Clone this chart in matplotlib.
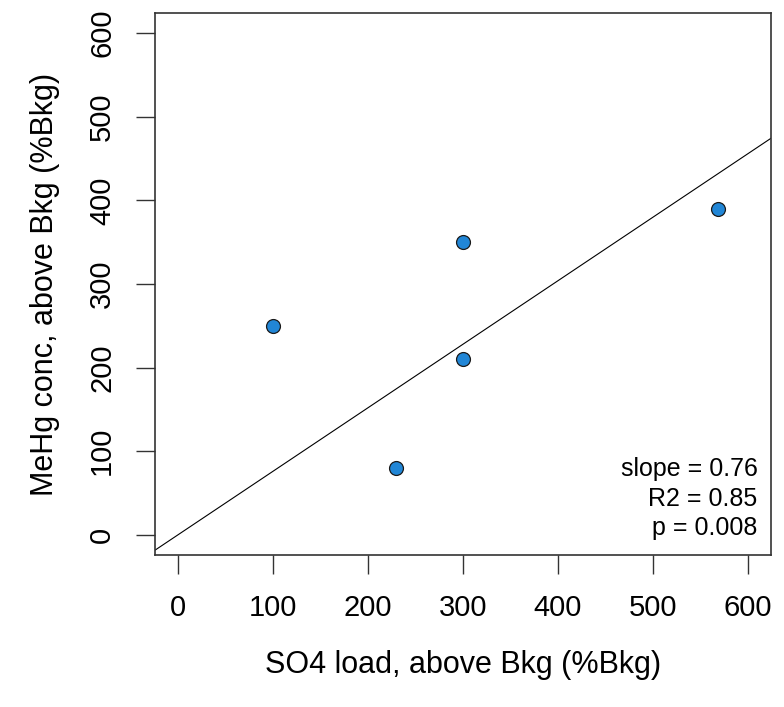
import matplotlib
matplotlib.use("Agg")
import matplotlib.pyplot as plt

plt.rcParams['font.family'] = ['Liberation Sans', 'DejaVu Sans']

# data
so4_load = [100, 230, 300, 300, 568]
mehg_conc = [250, 80, 350, 210, 390]
slope = 0.76
stats_lines = ['slope = 0.76', 'R2 = 0.85', 'p = 0.008']
ticks = [0, 100, 200, 300, 400, 500, 600]

fig = plt.figure(figsize=(7.84, 7.07), dpi=100)
ax = fig.add_axes([155 / 784, 1 - 555 / 707, (771 - 155) / 784, (555 - 13) / 707])

ax.set_xlim(-24, 624)
ax.set_ylim(-24, 624)

# regression line through the origin
xl = [-24, 624]
ax.plot(xl, [slope * v for v in xl], color='black', linewidth=0.8)

ax.scatter(so4_load, mehg_conc, s=100, color='#2186d6', edgecolor='#1a1a1a',
           linewidth=0.9, zorder=3)

ax.set_xticks(ticks)
ax.set_yticks(ticks)
ax.set_xticklabels([str(t) for t in ticks])
ax.set_yticklabels([str(t) for t in ticks], rotation=90, va='center')
ax.tick_params(axis='both', direction='out', length=14, width=1.0,
               labelsize=21, color='#333333')
ax.tick_params(axis='x', pad=14)
ax.tick_params(axis='y', pad=14)

for sp in ax.spines.values():
    sp.set_linewidth(1.2)
    sp.set_color('#333333')

ax.set_xlabel('SO4 load, above Bkg (%Bkg)', fontsize=22, labelpad=20)
ax.set_ylabel('MeHg conc, above Bkg (%Bkg)', fontsize=22, labelpad=20)

ax.text(0.978, 0.028, '\n'.join(stats_lines), transform=ax.transAxes,
        ha='right', va='bottom', fontsize=18, linespacing=1.28)

fig.savefig('out.png', dpi=100)
